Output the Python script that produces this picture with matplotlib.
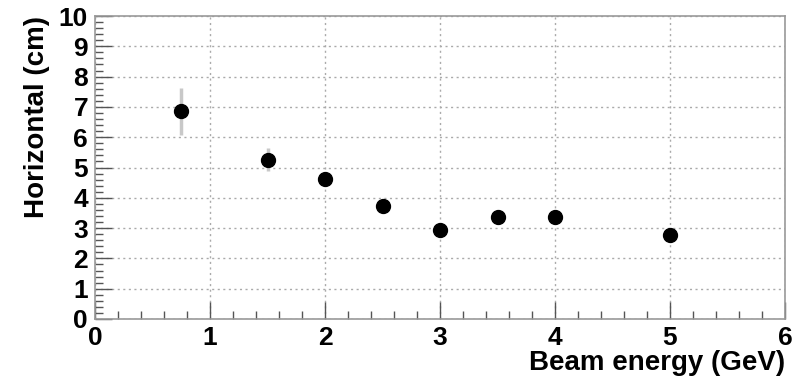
import numpy as np
import matplotlib
matplotlib.use('Agg')
import matplotlib.pyplot as plt
from matplotlib.ticker import MultipleLocator

# data
energy = [0.75, 1.5, 2.0, 2.5, 3.0, 3.5, 4.0, 5.0]   # GeV
horizontal = [6.85, 5.25, 4.63, 3.73, 2.95, 3.37, 3.35, 2.78]  # cm
err = [0.78, 0.38, 0.08, 0.08, 0.08, 0.08, 0.08, 0.08]

plt.rcParams['font.family'] = ['Liberation Sans', 'DejaVu Sans']
plt.rcParams['font.weight'] = 'bold'

fig = plt.figure(figsize=(7.96, 3.81), dpi=100)
ax = fig.add_axes([95/796, 1 - 319/381, 690/796, 303/381])

ax.errorbar(energy, horizontal, yerr=err, fmt='none', ecolor='#c8c8c8', elinewidth=2.5, zorder=2)
ax.plot(energy, horizontal, 'o', color='black', markersize=10, zorder=3)

ax.set_xlim(0, 6)
ax.set_ylim(0, 10)
ax.xaxis.set_major_locator(MultipleLocator(1))
ax.xaxis.set_minor_locator(MultipleLocator(0.2))
ax.yaxis.set_major_locator(MultipleLocator(1))
ax.yaxis.set_minor_locator(MultipleLocator(0.2))
ax.grid(True, which='major', color='#aaaaaa', linestyle=(0, (1.5, 2.5)), linewidth=1)
ax.tick_params(which='major', direction='in', length=12, width=1, colors='#555555', labelcolor='black', labelsize=19, pad=5)
ax.tick_params(which='minor', direction='in', length=6, width=1, colors='#555555')
ax.tick_params(top=False, right=False)
for s in ax.spines.values():
    s.set_color('#999999')
    s.set_linewidth(1.2)

ax.set_xlabel('Beam energy (GeV)', fontsize=20, fontweight='bold', loc='right', labelpad=0)
ax.set_ylabel('Horizontal (cm)', fontsize=20, fontweight='bold', loc='top', labelpad=6)

fig.savefig('out.png', dpi=100)
